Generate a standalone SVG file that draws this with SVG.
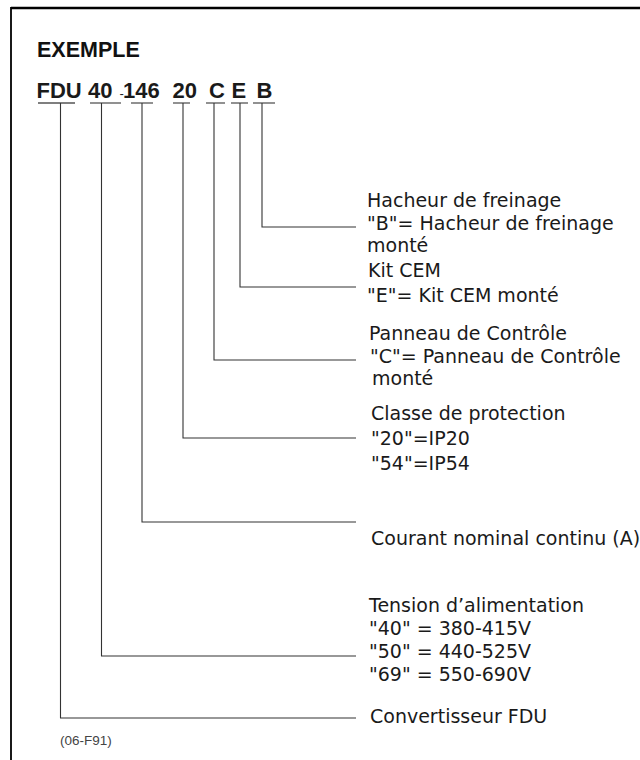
<svg xmlns="http://www.w3.org/2000/svg" width="640" height="760" viewBox="0 0 640 760">
<style>
.lbl{font-family:"DejaVu Sans",sans-serif;font-size:19px;fill:#1a1a1a}
.code{font-family:"Liberation Sans",Arial,sans-serif;font-weight:bold;font-size:22px;fill:#1a1a1a}
.ul{stroke:#555;stroke-width:1.3;fill:none}
.con{stroke:#333;stroke-width:1.1;fill:none}
</style>
<rect width="640" height="760" fill="#fff"/>
<g id="frame">
<line x1="11" y1="8" x2="640" y2="8" stroke="#000" stroke-width="2.4"/>
<line x1="11" y1="7" x2="11" y2="760" stroke="#000" stroke-width="1.8"/>
</g>
<g id="title">
<text x="37" y="57" font-family="Liberation Sans,Arial,sans-serif" font-weight="bold" font-size="21.5" fill="#111">EXEMPLE</text>
</g>
<g id="code">
<text class="code" x="36.5" y="97.5">FDU</text>
<text class="code" x="88" y="97.5">40</text>
<text x="119.5" y="97.5" font-family="Liberation Sans,Arial,sans-serif" font-size="13" fill="#1a1a1a">-</text>
<text class="code" x="123" y="97.5">146</text>
<text class="code" x="172.5" y="97.5">20</text>
<text class="code" x="209" y="97.5">C</text>
<text class="code" x="231.5" y="97.5">E</text>
<text class="code" x="256.5" y="97.5">B</text>
<line class="ul" x1="38" y1="103" x2="75" y2="103"/>
<line class="ul" x1="90" y1="103" x2="121" y2="103"/>
<line class="ul" x1="131" y1="103" x2="153" y2="103"/>
<line class="ul" x1="173" y1="103" x2="190" y2="103"/>
<line class="ul" x1="206" y1="103" x2="225" y2="103"/>
<line class="ul" x1="231" y1="103" x2="248" y2="103"/>
<line class="ul" x1="253" y1="103" x2="275" y2="103"/>
</g>
<g id="connectors">
<polyline class="con" points="262,103 262,227 356,227"/>
<polyline class="con" points="240,103 240,287 356,287"/>
<polyline class="con" points="214,103 214,360 356,360"/>
<polyline class="con" points="183,103 183,438 356,438"/>
<polyline class="con" points="142,103 142,522 356,522"/>
<polyline class="con" points="101.5,103 101.5,656 356,656"/>
<polyline class="con" points="60.5,103 60.5,718 356,718"/>
</g>
<g id="node-B">
<text class="lbl" x="367" y="207">Hacheur de freinage</text>
<text class="lbl" x="367" y="230">"B"= Hacheur de freinage</text>
<text class="lbl" x="367" y="252">monté</text>
</g>
<g id="node-E">
<text class="lbl" x="368" y="277">Kit CEM</text>
<text class="lbl" x="367" y="302">"E"= Kit CEM monté</text>
</g>
<g id="node-C">
<text class="lbl" x="369" y="340">Panneau de Contrôle</text>
<text class="lbl" x="370" y="363">"C"= Panneau de Contrôle</text>
<text class="lbl" x="372" y="385">monté</text>
</g>
<g id="node-20">
<text class="lbl" x="371" y="420">Classe de protection</text>
<text class="lbl" x="371" y="445">"20"=IP20</text>
<text class="lbl" x="371" y="470">"54"=IP54</text>
</g>
<g id="node-146">
<text class="lbl" x="371" y="545">Courant nominal continu (A)</text>
</g>
<g id="node-40">
<text class="lbl" x="369" y="612">Tension d’alimentation</text>
<text class="lbl" x="369" y="635">"40" = 380-415V</text>
<text class="lbl" x="369" y="658">"50" = 440-525V</text>
<text class="lbl" x="369" y="681">"69" = 550-690V</text>
</g>
<g id="node-FDU">
<text class="lbl" x="370" y="723">Convertisseur FDU</text>
</g>
<g id="ref">
<text x="60" y="745" font-family="Liberation Sans,Arial,sans-serif" font-size="13.5" fill="#444">(06-F91)</text>
</g>
</svg>
